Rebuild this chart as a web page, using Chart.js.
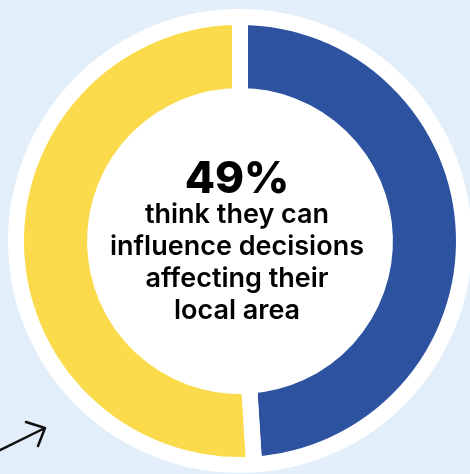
<!DOCTYPE html>
<html>
<head>
<meta charset="utf-8">
<script src="https://cdn.jsdelivr.net/npm/chart.js@4"></script>
<style>
  html, body { margin: 0; padding: 0; overflow: hidden; background: #e2effb; width: 470px; height: 474px; }
  #wrap { position: absolute; left: 0; top: 0; width: 480px; height: 482px; }
</style>
</head>
<body>
<div id="wrap"><canvas id="chart" width="480" height="482"></canvas></div>
<script>
'use strict';

var labels = ['Think they can influence decisions', 'Do not'];
var values = [49, 51];
var colours = ['#2c52a0', '#fbdb4b'];
var headline = '49%';
var caption = ['think they can', 'influence decisions', 'affecting their', 'local area'];

// white disc behind the ring + the little arrow at bottom left
var backdrop = {
    id: 'backdrop',
    beforeDatasetsDraw: function (chart) {
        var arc = chart.getDatasetMeta(0).data[0];
        var ctx = chart.ctx;
        ctx.save();
        ctx.fillStyle = '#ffffff';
        ctx.beginPath();
        ctx.arc(arc.x, arc.y, arc.outerRadius + 7, 0, Math.PI * 2);
        ctx.fill();
        ctx.restore();
    },
    afterDraw: function (chart) {
        var ctx = chart.ctx;
        ctx.save();
        ctx.strokeStyle = '#111';
        ctx.lineWidth = 2.5;
        ctx.lineCap = 'round';
        ctx.lineJoin = 'round';
        ctx.beginPath();
        ctx.moveTo(-2, 451);
        ctx.lineTo(45, 428);
        ctx.moveTo(26, 422);
        ctx.lineTo(45, 428);
        ctx.lineTo(38, 446);
        ctx.stroke();
        ctx.restore();
    }
};

var centreText = {
    id: 'centreText',
    afterDatasetsDraw: function (chart) {
        var arc = chart.getDatasetMeta(0).data[0];
        var ctx = chart.ctx;
        var cx = arc.x - 3;
        ctx.save();
        ctx.fillStyle = '#000';
        ctx.textAlign = 'center';
        ctx.textBaseline = 'alphabetic';
        ctx.font = '800 44px Inter, "Open Sans", sans-serif';
        ctx.fillText(headline, cx, 193);
        ctx.font = '600 27px Inter, "Open Sans", sans-serif';
        caption.forEach(function (line, i) {
            ctx.fillText(line, cx, 223 + i * 32);
        });
        ctx.restore();
    }
};

new Chart(document.getElementById('chart').getContext('2d'), {
    type: 'doughnut',
    data: {
        labels: labels,
        datasets: [
            {
                data: values,
                backgroundColor: colours,
                borderColor: '#ffffff',
                borderWidth: 16,
                borderAlign: 'center',
                hoverOffset: 0
            }
        ]
    },
    options: {
        responsive: false,
        animation: false,
        cutout: '64.7%',
        layout: { padding: { left: 8, right: 8, top: 9, bottom: 9 } },
        plugins: {
            legend: { display: false },
            tooltip: { enabled: false }
        }
    },
    plugins: [backdrop, centreText]
});
</script>
</body>
</html>
